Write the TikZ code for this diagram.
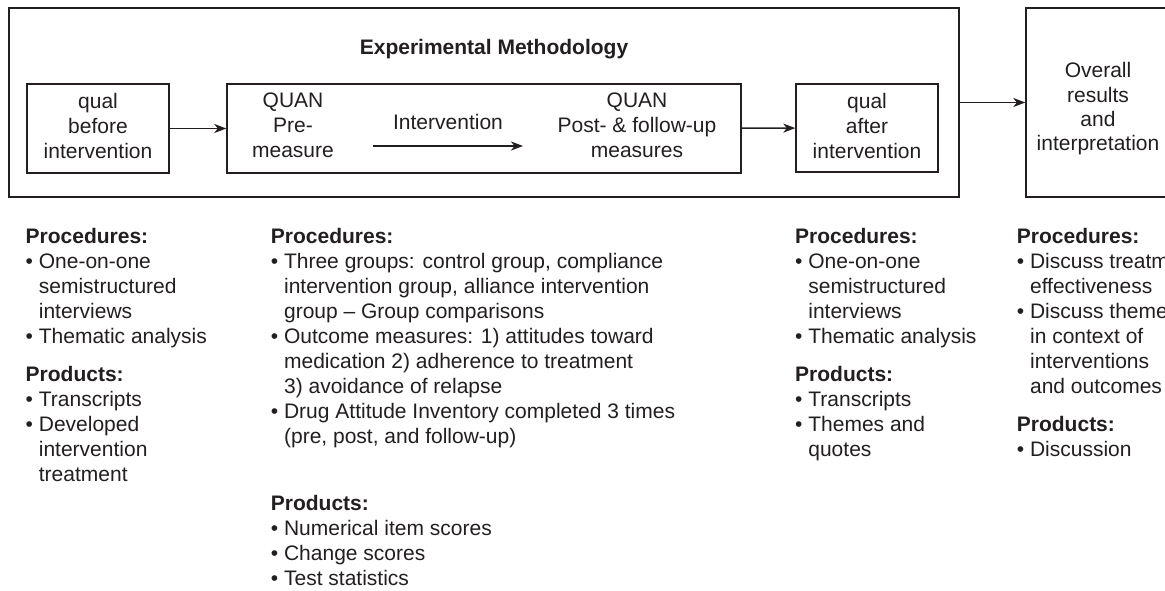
\documentclass[tikz,border=0pt]{standalone}
\usepackage{fontspec}
\setmainfont{Liberation Sans}
\usetikzlibrary{arrows.meta}
\definecolor{ink}{RGB}{35,31,32}
% bullet and matching hanging indent for continuation lines
\newcommand\bul{\textbullet\ }
\newcommand\cont{\hphantom{\textbullet\ }}

\begin{document}
\begin{tikzpicture}[x=1pt,y=-1pt,
  every node/.style={text=ink, font=\fontsize{21}{25}\selectfont},
  frame/.style={draw=ink, line width=1.4pt, inner sep=0pt},
  boxtext/.style={inner sep=0pt, align=center},
  % multi-line blocks are placed by the baseline of their last line
  col/.style={inner sep=0pt, align=left, anchor=base west},
  flow/.style={draw=ink, line width=1.4pt, -{Stealth[length=12pt,width=9pt,inset=3.5pt]}},
]
\useasboundingbox (0,0) rectangle (1165,591);
\clip (0,0) rectangle (1165,591);
\fill[white] (0,0) rectangle (1165,591);

% experimental methodology frame and its stages
\node[frame, minimum width=950, minimum height=189] (outer) at (484,102.5) {};
\node[anchor=base, inner sep=0pt, font=\fontsize{21}{25}\selectfont\bfseries] (title) at (494,55) {Experimental Methodology};

\node[frame, minimum width=142, minimum height=89] (b1) at (98,128.5) {};
\node[boxtext] (t1) at (98,125.5) {qual\\before\\intervention};

\node[frame, minimum width=514, minimum height=89] (b2) at (484,128.5) {};
\node[boxtext] (pre) at (293,125.5) {QUAN\\Pre-\\measure};
\node[anchor=base, inner sep=0pt] (iv) at (448,129.3) {Intervention};
\node[boxtext] (post) at (637,125.5) {QUAN\\Post- \& follow-up\\measures};
\coordinate (ivs) at (373,146);
\coordinate (ive) at (523,146);

\node[frame, minimum width=142, minimum height=88] (b3) at (867,128) {};
\node[boxtext] (t3) at (867,125.5) {qual\\after\\intervention};

% overall results box
\node[frame, minimum width=144, minimum height=189] (res) at (1098,102.5) {};
\node[boxtext, font=\fontsize{21}{24.3}\selectfont] (tres) at (1098,109) {Overall\\results\\and\\interpretation};

% connectors
\draw[flow] (b1) -- (b2);
\draw[flow] (ivs) -- (ive);
\draw[flow] (b2) -- (b3);
\draw[flow] (outer) -- (res);

% procedures and products under each stage
\node[col] (p1) at (25.5,343.3) {\textbf{Procedures:}\\\bul One-on-one\\\cont semistructured\\\cont interviews\\\bul Thematic analysis};
\node[col] (q1) at (25.5,481.7) {\textbf{Products:}\\\bul Transcripts\\\bul Developed\\\cont intervention\\\cont treatment};

\node[col] (p2) at (270.7,443.3) {\textbf{Procedures:}\\\bul Three groups: control group, compliance\\\cont intervention group, alliance intervention\\\cont group \textendash{} Group comparisons\\\bul Outcome measures: 1) attitudes toward\\\cont medication 2) adherence to treatment\\\cont 3) avoidance of relapse\\\bul Drug Attitude Inventory completed 3 times\\\cont (pre, post, and follow-up)};
\node[col] (q2) at (270.7,585) {\textbf{Products:}\\\bul Numerical item scores\\\bul Change scores\\\bul Test statistics};

\node[col] (p3) at (795,343.3) {\textbf{Procedures:}\\\bul One-on-one\\\cont semistructured\\\cont interviews\\\bul Thematic analysis};
\node[col] (q3) at (795,456.7) {\textbf{Products:}\\\bul Transcripts\\\bul Themes and\\\cont quotes};

\node[col] (p4) at (1016.7,393.3) {\textbf{Procedures:}\\\bul Discuss treatment\\\cont effectiveness\\\bul Discuss themes\\\cont in context of\\\cont interventions\\\cont and outcomes};
\node[col] (q4) at (1016.7,456.7) {\textbf{Products:}\\\bul Discussion};
\end{tikzpicture}
\end{document}
